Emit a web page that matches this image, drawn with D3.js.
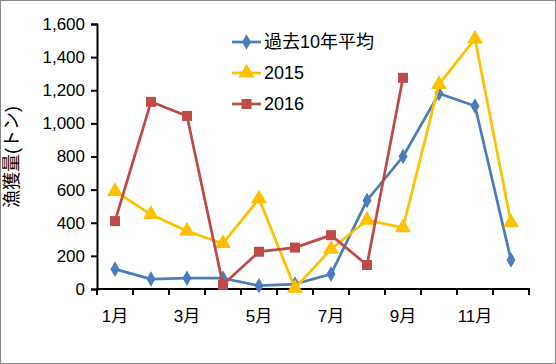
<!DOCTYPE html>
<meta charset="utf-8">
<style>
body{margin:0;background:white;}
svg{display:block;}
.tick text{font-family:"Liberation Sans","Noto Sans CJK JP",sans-serif;font-size:17px;fill:#000;}
.lab{font-family:"Liberation Sans","Noto Sans CJK JP",sans-serif;font-size:17px;}
</style>
<body>
<script src="https://cdn.jsdelivr.net/npm/d3@7"></script>
<script>
var months = ["1月","2月","3月","4月","5月","6月","7月","8月","9月","10月","11月","12月"];
var yTicks = [0,200,400,600,800,1000,1200,1400,1600];
var avg10 = [120,60,65,65,20,30,90,535,800,1180,1105,175];
var y2015 = [590,450,350,275,545,5,240,415,370,1235,1510,400];
var y2016 = [410,1130,1045,25,225,250,325,145,1275];

var series = [
  {name:"過去10年平均", values:avg10, color:"#4a7ebb", shape:d3.symbolDiamond, size:70},
  {name:"2015", values:y2015, color:"#ffc000", shape:d3.symbolTriangle, size:110},
  {name:"2016", values:y2016, color:"#be4b48", shape:d3.symbolSquare, size:100}
];

var W = 556, H = 364;
var svg = d3.select("body").append("svg").attr("width",W).attr("height",H);

svg.append("rect").attr("x",0.5).attr("y",0.5).attr("width",W-1).attr("height",H-1)
  .attr("fill","white").attr("stroke","#868686");

var x = d3.scaleBand().domain(months).range([97,529]);
var y = d3.scaleLinear().domain([0,1600]).range([289,24]);

var yAxis = svg.append("g").attr("transform","translate(97,0)")
  .call(d3.axisLeft(y).tickValues(yTicks).tickSize(6).tickPadding(6).tickFormat(d3.format(",")));
yAxis.select(".domain").attr("stroke-width",2);
yAxis.selectAll(".tick line").attr("stroke-width",2);

// x axis: ticks at band boundaries, labels on odd months
var xg = svg.append("g").attr("transform","translate(0,289)");
xg.append("line").attr("x1",96).attr("x2",530).attr("stroke","#000").attr("stroke-width",2);
var edges = months.map(function(m){return x(m);}).concat([x.range()[1]]);
xg.selectAll(".xt").data(edges).enter().append("line")
  .attr("x1",function(d){return d;}).attr("x2",function(d){return d;})
  .attr("y1",0).attr("y2",6).attr("stroke","#000").attr("stroke-width",2);
xg.selectAll(".xl").data(months.filter(function(m,i){return i%2===0;})).enter().append("text")
  .attr("class","lab")
  .attr("x",function(d){return x(d)+x.bandwidth()/2;})
  .attr("y",33).attr("text-anchor","middle").text(function(d){return d;});

var line = d3.line().x(function(d,i){return x(months[i])+x.bandwidth()/2;}).y(function(d){return y(d);});

series.forEach(function(s){
  svg.append("path").attr("d",line(s.values)).attr("fill","none")
    .attr("stroke",s.color).attr("stroke-width",2.75).attr("stroke-linejoin","round");
  svg.selectAll(null).data(s.values).enter().append("path")
    .attr("d",d3.symbol().type(s.shape).size(s.size))
    .attr("transform",function(d,i){return "translate("+(x(months[i])+x.bandwidth()/2)+","+y(d)+")";})
    .attr("fill",s.color);
});

// legend
var lg = svg.append("g");
series.forEach(function(s,i){
  var ly = 42 + i*31;
  lg.append("line").attr("x1",232).attr("x2",261).attr("y1",ly).attr("y2",ly)
    .attr("stroke",s.color).attr("stroke-width",2.75);
  lg.append("path").attr("d",d3.symbol().type(s.shape).size(s.size))
    .attr("transform","translate(246.5,"+ly+")").attr("fill",s.color);
  lg.append("text").attr("class","lab").attr("x",264).attr("y",ly+6).style("font-size","18px").text(s.name);
});

// y title
svg.append("text").attr("class","lab")
  .attr("transform","translate(18,157) rotate(-90)")
  .attr("text-anchor","middle").style("font-size","18px").text("漁獲量(トン)");
</script>
